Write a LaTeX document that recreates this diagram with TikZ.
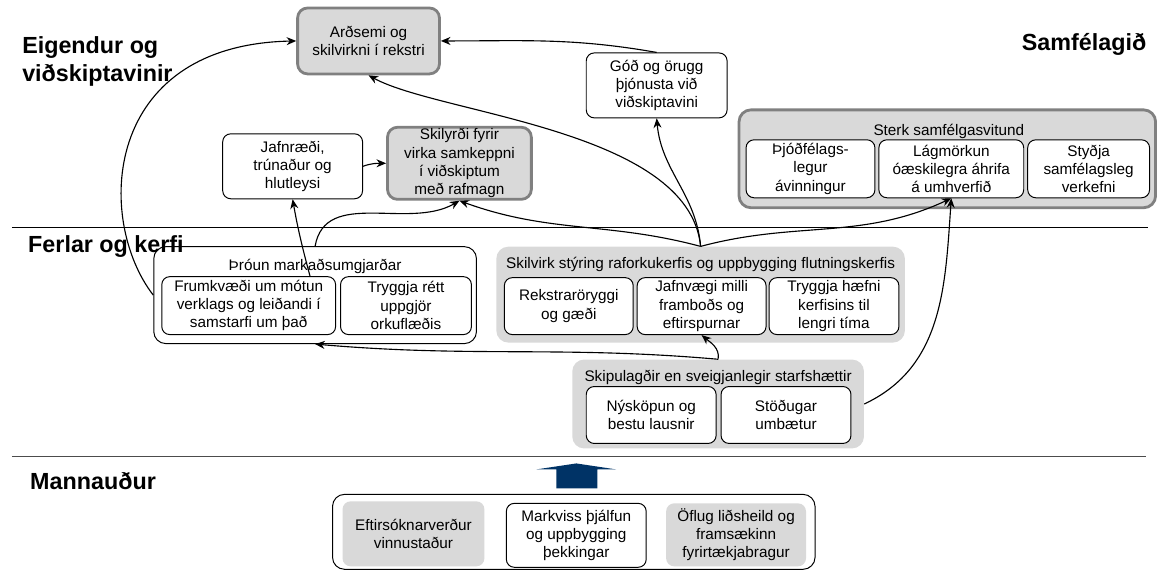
\documentclass[tikz,border=0pt]{standalone}
\usepackage{fontspec}
\setmainfont{Liberation Sans}
\usetikzlibrary{arrows.meta}
\definecolor{boxgray}{RGB}{217,217,217}
\definecolor{rimgray}{RGB}{128,128,128}
\definecolor{navyblue}{RGB}{0,51,102}
\tikzset{
txt/.style={font=\fontsize{10.9}{13}\selectfont},
rule/.style={draw, line width=0.6pt}
}

\begin{document}
\begin{tikzpicture}[x=0.025cm, y=0.025cm,
    % Styles
    persp/.style={% Perspective titles
        font=\fontsize{16.6}{20}\selectfont\bfseries,
        inner sep=0pt,
        align=left,
        },
    goalbox/.style={% Grey goals with a heavy rim
        rectangle,
        rounded corners=2.5mm,
        draw=rimgray,
        line width=2pt,
        fill=boxgray,
        align=center,
        inner sep=1pt,
        txt,
        },
    itembox/.style={% White boxes
        rectangle,
        rounded corners=2mm,
        draw,
        line width=0.7pt,
        fill=white,
        align=center,
        inner sep=1pt,
        txt,
        },
    greybox/.style={% Grey boxes without rim
        rectangle,
        rounded corners=2mm,
        fill=boxgray,
        align=center,
        inner sep=1pt,
        txt,
        },
    framebox/.style={% Grey frames round the items
        rectangle,
        rounded corners=3mm,
        fill=boxgray,
        },
    heading/.style={% Titles of the frames
        txt,
        inner sep=0pt,
        },
    ArrowC/.style={% Curved connectors
        -{Stealth[length=2.4mm,width=2mm]},
        line width=0.8pt,
        },
    ]

    % Dividing lines
    \draw[rule] (12,-228) -- (1149,-228);
    \draw[rule, draw=black!70, line width=1pt] (12,-457) -- (1147,-457);

    % Top goals
    \node[goalbox, minimum width=3.55cm, minimum height=1.65cm] (ards) at (369,-41) {Arðsemi og\\skilvirkni í rekstri};
    \node[itembox, minimum width=3.525cm, minimum height=1.625cm] (god) at (657.5,-85.5) {Góð og örugg\\þjónusta við\\viðskiptavini};
    \node[itembox, minimum width=3.5cm, minimum height=1.625cm] (jafn) at (293,-166.5) {Jafnræði,\\trúnaður og\\hlutleysi};
    \node[goalbox, minimum width=3.6cm, minimum height=1.675cm] (skily) at (460,-163.5) {Skilyrði fyrir\\virka samkeppni\\í viðskiptum\\með rafmagn};

    % Society
    \node[goalbox, rounded corners=3mm, minimum width=10.425cm, minimum height=2.45cm] (sterk) at (948.5,-159) {};
    \node[heading] (sterkT) at (950,-132) {Sterk samfélgasvitund};
    \node[itembox, minimum width=3.225cm, minimum height=1.45cm] (thjod) at (811.5,-169) {Þjóðfélags-\\legur\\ávinningur};
    \node[itembox, minimum width=3.625cm, minimum height=1.45cm] (lag) at (952.5,-169) {Lágmörkun\\óæskilegra áhrifa\\á umhverfið};
    \node[itembox, minimum width=3.05cm, minimum height=1.45cm] (stydja) at (1090,-169) {Styðja\\samfélagsleg\\verkefni};

    % Processes: market
    \node[itembox, rounded corners=3mm, minimum width=8.075cm, minimum height=2.425cm] (markad) at (315.5,-295.5) {};
    \draw[ArrowC] (markad.center) to[out=105, in=-80] (jafn.south);
    \node[heading] (markadT) at (315.5,-267) {Þróun markaðsumgjarðar};
    \node[itembox, minimum width=4.35cm, minimum height=1.45cm] (frum) at (249,-306) {Frumkvæði um mótun\\verklags og leiðandi í\\samstarfi um það};
    \node[itembox, minimum width=3.275cm, minimum height=1.45cm] (trygg) at (406.5,-306) {Tryggja rétt\\uppgjör\\orkuflæðis};

    % Processes: system
    \node[framebox, minimum width=10.225cm, minimum height=2.4cm] (skil) at (701.5,-295) {};
    \node[heading] (skilT) at (701.5,-265) {Skilvirk stýring raforkukerfis og uppbygging flutningskerfis};
    \node[itembox, minimum width=3.225cm, minimum height=1.425cm] (rekst) at (569.5,-306.5) {Rekstraröryggi\\og gæði};
    \node[itembox, minimum width=3.225cm, minimum height=1.425cm] (jafnv) at (702.5,-306.5) {Jafnvægi milli\\framboðs og\\eftirspurnar};
    \node[itembox, minimum width=3.25cm, minimum height=1.425cm] (haefni) at (835,-306.5) {Tryggja hæfni\\kerfisins til\\lengri tíma};

    % Processes: working methods
    \node[framebox, minimum width=7.3cm, minimum height=2.225cm] (skip) at (719,-404.5) {};
    \node[heading] (skipT) at (719,-378) {Skipulagðir en sveigjanlegir starfshættir};
    \node[itembox, minimum width=3.25cm, minimum height=1.425cm] (nysk) at (652,-415.5) {Nýsköpun og\\bestu lausnir};
    \node[itembox, minimum width=3.25cm, minimum height=1.425cm] (stod) at (787,-415.5) {Stöðugar\\umbætur};

    % Human resources
    \node[itembox, rounded corners=3mm, minimum width=12.075cm, minimum height=1.875cm] (mann) at (574.5,-532.5) {};
    \node[greybox, minimum width=3.55cm, minimum height=1.625cm] (eftir) at (414,-534.5) {Eftirsóknarverður\\vinnustaður};
    \node[itembox, minimum width=3.5cm, minimum height=1.6cm] (markv) at (577,-536) {Markviss þjálfun\\og uppbygging\\þekkingar};
    \node[greybox, minimum width=3.5cm, minimum height=1.575cm] (oflug) at (737,-535.5) {Öflug liðsheild og\\framsækinn\\fyrirtækjabragur};

    % Block arrow
    \fill[navyblue] (557,-489) -- (557,-470) -- (537,-470) -- (577,-464)
        -- (617,-470) -- (598,-470) -- (598,-489) -- cycle;

    % Perspectives
    \node[persp, anchor=north west] (eig) at (22,-36) {Eigendur og\\viðskiptavinir};
    \node[persp, anchor=north east] (samf) at (1148,-33) {Samfélagið};
    \node[persp, anchor=north west] (ferl) at (28,-236) {Ferlar og kerfi};
    \node[persp, anchor=north west] (mannT) at (30,-473) {Mannauður};

    % Connectors
    \draw[ArrowC] (markad.west) .. controls +(-58,75) and +(-195,-4) .. (ards.west);
    \draw[ArrowC] (jafn.east) to[out=20, in=180] (skily.west);
    \draw[ArrowC] (markad.north) to[out=80, in=-150] (skily.south);
    \draw[ArrowC] (god.north) to[out=170, in=0] (ards.east);
    \draw[ArrowC] (skil.north) .. controls +(-11.5,117) and +(71,-39) .. (ards.south);
    \draw[ArrowC] (skil.north) to[out=95, in=-85] (god.south);
    \draw[ArrowC] (skil.north) to[out=165, in=-20] (skily.south);
    \draw[ArrowC] (skil.north) to[out=15, in=-155] (lag.south);
    \draw[ArrowC] (skip.east) to[out=25, in=-94] (lag.south);
    \draw[ArrowC] (skip.north) to[out=80, in=-40] (jafnv.south);
    \draw[ArrowC] (skip.north) to[out=175, in=-5] (markad.south);

    \useasboundingbox (0,0) rectangle (1157,-572);
\end{tikzpicture}
\end{document}
